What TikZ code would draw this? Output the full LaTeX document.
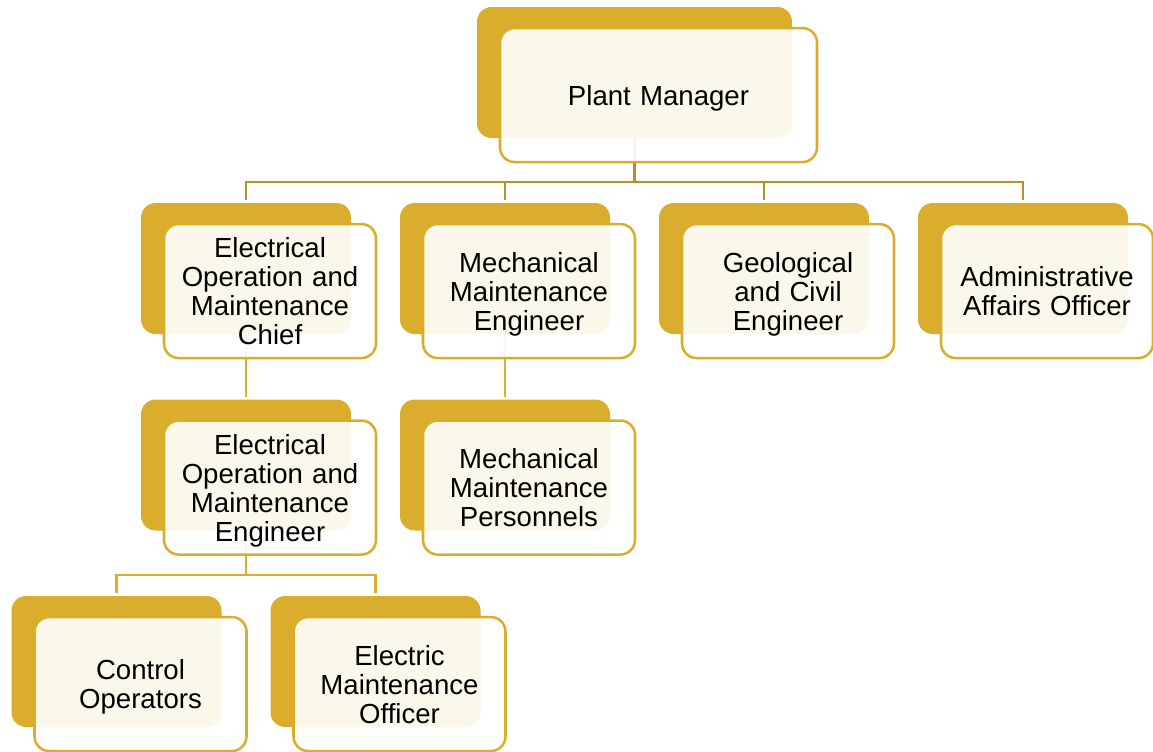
\documentclass[tikz,border=0pt]{standalone}
\usepackage{fontspec}
\setmainfont{Liberation Sans}
\usetikzlibrary{positioning}

\definecolor{gold}{RGB}{218,174,44}
\definecolor{darkgold}{RGB}{184,146,40}

% last line without descender depth, so all cards centre alike
\newcommand{\nodesc}[1]{\raisebox{0pt}[\height][0pt]{#1}}

\tikzstyle{link} = [line width=1.8pt,draw=gold,shorten >=2pt]
\tikzstyle{plate} = [
        rectangle,
        rounded corners=11pt,
        minimum width=157.5pt,
        minimum height=98.25pt,
        inner sep=0pt,
        fill=gold
    ]
\tikzstyle{card} = [
        rectangle,
        rounded corners=11pt,
        minimum width=159pt,
        minimum height=100.5pt,
        text width=140pt,
        align=center,
        draw=gold,
        line width=1.9pt,
        fill=white,
        fill opacity=0.9,
        text opacity=1,
        font=\fontsize{20.7pt}{21.75pt}\selectfont
    ]

\begin{document}
\begin{tikzpicture}[x=0.75pt,y=-0.75pt,node distance=194.25pt]
        \useasboundingbox (0,0) rectangle (1153,751);

        % back plates
        \node [plate, minimum width=236.25pt] (pm) at (634.5,72.5) {};
        \node [plate] (eomc) at (246,268.5) {};
        \node [plate, right of=eomc] (mme) {};
        \node [plate, right of=mme] (gce) {};
        \node [plate, right of=gce] (aao) {};

        \node [plate, below of=eomc, node distance=147.375pt] (eome) {};
        \node [plate, below of=mme, node distance=147.375pt] (mmp) {};

        \node [plate, below of=eome, node distance=147.375pt, xshift=-97.125pt] (co) {};
        \node [plate, right of=co] (emo) {};

        % connectors
        \draw [link, draw=darkgold] (pm.south) -- ++(0,44) -| (eomc.north);
        \draw [link, draw=darkgold] (pm.south) -- ++(0,44) -| (mme.north);
        \draw [link, draw=darkgold] (pm.south) -- ++(0,44) -| (gce.north);
        \draw [link, draw=darkgold] (pm.south) -- ++(0,44) -| (aao.north);
        \draw [link] (eomc.south) -- (eome.north);
        \draw [link] (mme.south) -- (mmp.north);
        \draw [link] (eome.south) -- ++(0,44) -| (co.north);
        \draw [link] (eome.south) -- ++(0,44) -| (emo.north);

        % front cards
        \node [card, minimum width=237.75pt] (pmcard) at ([xshift=18pt,yshift=-16.9pt]pm) {\nodesc{Plant Manager}};
        \node [card] (eomccard) at ([xshift=18pt,yshift=-16.9pt]eomc) {Electrical\\Operation and\\Maintenance\\\nodesc{Chief}};
        \node [card] (mmecard) at ([xshift=18pt,yshift=-16.9pt]mme) {Mechanical\\Maintenance\\\nodesc{Engineer}};
        \node [card] (gcecard) at ([xshift=18pt,yshift=-16.9pt]gce) {Geological\\and Civil\\\nodesc{Engineer}};
        \node [card] (aaocard) at ([xshift=18pt,yshift=-16.9pt]aao) {Administrative\\\nodesc{Affairs Officer}};
        \node [card] (eomecard) at ([xshift=18pt,yshift=-16.9pt]eome) {Electrical\\Operation and\\Maintenance\\\nodesc{Engineer}};
        \node [card] (mmpcard) at ([xshift=18pt,yshift=-16.9pt]mmp) {Mechanical\\Maintenance\\\nodesc{Personnels}};
        \node [card] (cocard) at ([xshift=18pt,yshift=-16.9pt]co) {Control\\\nodesc{Operators}};
        \node [card] (emocard) at ([xshift=18pt,yshift=-16.9pt]emo) {Electric\\Maintenance\\\nodesc{Officer}};

\end{tikzpicture}
\end{document}
